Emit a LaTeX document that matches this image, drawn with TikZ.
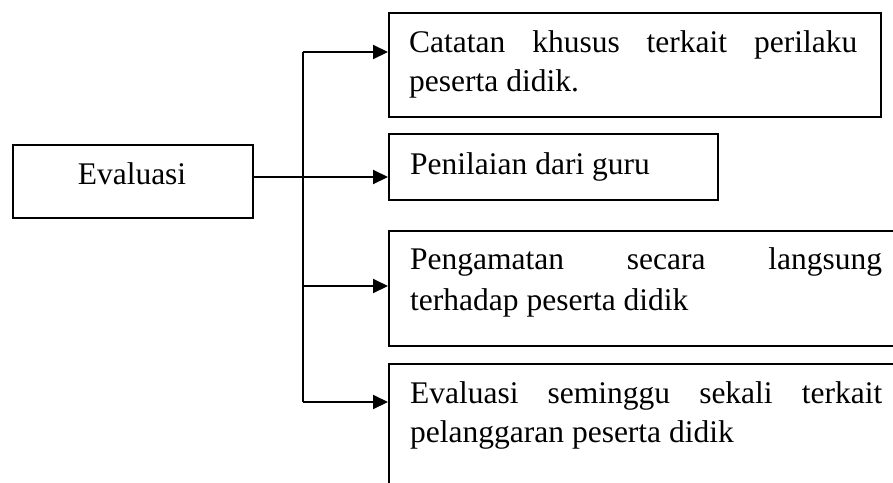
\documentclass[tikz,border=0pt]{standalone}
\usepackage{fontspec}
\setmainfont{Liberation Serif}
\usetikzlibrary{arrows.meta}
\begin{document}
\begin{tikzpicture}[x=1pt,y=-1pt,
  box/.style={draw, line width=1.6pt, inner sep=0pt, anchor=north west},
  txt/.style={anchor=base west, inner sep=0pt, font=\fontsize{31.5}{36}\selectfont},
  conn/.style={line width=2pt},
  arr/.style={conn, -{Triangle[length=15pt,width=14pt]}}]
\useasboundingbox (0,0) rectangle (893,482);
\clip (0,0) rectangle (893,482);
% boxes
\node[box, minimum width=240pt, minimum height=73pt] (ev) at (12,144) {};
\node[box, minimum width=492pt, minimum height=104pt] (b1) at (388,12) {};
\node[box, minimum width=329pt, minimum height=66pt] (b2) at (388,133) {};
\node[box, minimum width=560pt, minimum height=115pt] (b3) at (388,230) {};
\node[box, minimum width=560pt, minimum height=200pt] (b4) at (388,363) {};
% texts
\node[txt, anchor=base] (evt) at (132,184) {Evaluasi};
\node[txt] (t1a) at (409,52) {\hbox to 448pt{Catatan\hfill khusus\hfill terkait\hfill perilaku}};
\node[txt] (t1b) at (409,91) {peserta didik.};
\node[txt] (t2) at (410,174) {Penilaian dari guru};
\node[txt] (t3a) at (410,269) {\hbox to 472pt{Pengamatan\hfill secara\hfill langsung}};
\node[txt] (t3b) at (410,310) {terhadap peserta didik};
\node[txt] (t4a) at (410,403) {\hbox to 472pt{Evaluasi\hfill seminggu\hfill sekali\hfill terkait}};
\node[txt] (t4b) at (410,442) {pelanggaran peserta didik};
% junctions
\coordinate (j1) at (303,52);
\coordinate (j2) at (303,177);
\coordinate (j3) at (303,286);
\coordinate (j4) at (303,402);
% connectors
\draw[conn] (j1) -- (j4);
\draw[arr] (ev.east |- j2) -- (j2 -| b2.west);
\draw[arr] (j1) -- (j1 -| b1.west);
\draw[arr] (j3) -- (j3 -| b3.west);
\draw[arr] (j4) -- (j4 -| b4.west);
\end{tikzpicture}
\end{document}
